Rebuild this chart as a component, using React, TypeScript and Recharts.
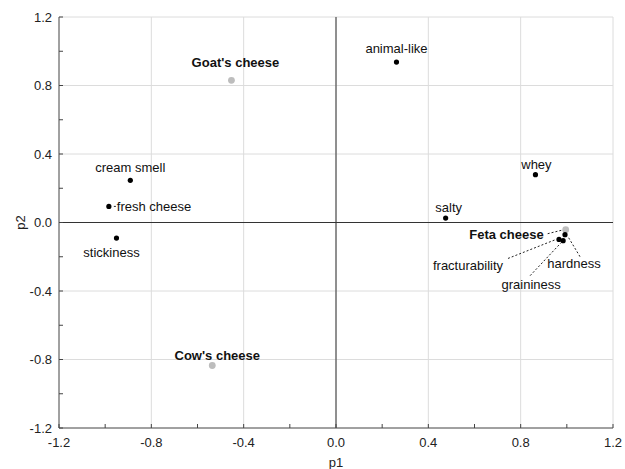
import { ScatterChart, Scatter, XAxis, YAxis, CartesianGrid, ReferenceLine } from "recharts";

// sensory attributes (loadings)
const attrNames = [
  "cream smell",
  "fresh cheese",
  "stickiness",
  "animal-like",
  "whey",
  "salty",
  "hardness",
  "fracturability",
  "graininess",
];
const attrP1 = [-0.891, -0.984, -0.951, 0.262, 0.864, 0.475, 0.992, 0.966, 0.984];
const attrP2 = [0.246, 0.094, -0.091, 0.937, 0.279, 0.026, -0.071, -0.099, -0.106];

// cheese samples (scores)
const cheeseNames = ["Goat's cheese", "Cow's cheese", "Feta cheese"];
const cheeseP1 = [-0.453, -0.536, 0.995];
const cheeseP2 = [0.83, -0.835, -0.042];

const majorTicks = [-1.2, -0.8, -0.4, 0, 0.4, 0.8, 1.2];
const allTicks = [-1.2, -1.0, -0.8, -0.6, -0.4, -0.2, 0, 0.2, 0.4, 0.6, 0.8, 1.0, 1.2];

const attrData = attrNames.map((name, i) => ({ name, p1: attrP1[i], p2: attrP2[i] }));
const cheeseData = cheeseNames.map((name, i) => ({ name, p1: cheeseP1[i], p2: cheeseP2[i] }));

const FONT = '"Liberation Sans", Arial, sans-serif';

type Placement = {
  dx: number;
  dy: number;
  anchor: "start" | "middle" | "end";
  leader?: [number, number, number, number];
};

// where each label sits relative to its point, in pixels
const placement: Record<string, Placement> = {
  "cream smell": { dx: 0, dy: -13, anchor: "middle" },
  "fresh cheese": { dx: 8, dy: 0, anchor: "start", leader: [5, 0, 7, 0] },
  stickiness: { dx: -5, dy: 14, anchor: "middle" },
  "animal-like": { dx: 0, dy: -14, anchor: "middle" },
  whey: { dx: 1, dy: -10, anchor: "middle" },
  salty: { dx: 3, dy: -11, anchor: "middle" },
  hardness: { dx: 9, dy: 29, anchor: "middle", leader: [15, 22, 3, 2] },
  fracturability: { dx: -91, dy: 26, anchor: "middle", leader: [-51, 19, -3, 0] },
  graininess: { dx: -32, dy: 44, anchor: "middle", leader: [-33, 35, -2, 2] },
  "Goat's cheese": { dx: 4, dy: -18, anchor: "middle" },
  "Cow's cheese": { dx: 5, dy: -10, anchor: "middle" },
  "Feta cheese": { dx: -22, dy: 5, anchor: "end", leader: [-18, 4, -4, 0.5] },
};

const isMajor = (v: number) => majorTicks.includes(v);

const makeShape = (r: number, fill: string, bold: boolean) => (props: any) => {
  const { cx, cy, payload } = props;
  const pl = placement[payload.name];
  return (
    <g>
      {pl && pl.leader && (
        <line
          x1={cx + pl.leader[0]}
          y1={cy + pl.leader[1]}
          x2={cx + pl.leader[2]}
          y2={cy + pl.leader[3]}
          stroke="#222"
          strokeWidth={1}
          strokeDasharray="2 2"
        />
      )}
      <circle cx={cx} cy={cy} r={r} fill={fill} />
      {pl && (
        <text
          x={cx + pl.dx}
          y={cy + pl.dy}
          textAnchor={pl.anchor}
          dominantBaseline="central"
          fontFamily={FONT}
          fontSize={13}
          fontWeight={bold ? 700 : 400}
          fill="#111"
        >
          {payload.name}
        </text>
      )}
    </g>
  );
};

const BottomTick = (p: any) => {
  const v = p.payload.value;
  return (
    <g>
      <line x1={p.x} x2={p.x} y1={p.y} y2={p.y - 4} stroke="#444" />
      {isMajor(v) && (
        <text x={p.x} y={p.y + 14} textAnchor="middle" dominantBaseline="central" fontFamily={FONT} fontSize={13} fill="#222">
          {v.toFixed(1)}
        </text>
      )}
    </g>
  );
};

const TopTick = (p: any) => <line x1={p.x} x2={p.x} y1={p.y} y2={p.y + 4} stroke="#444" />;

const LeftTick = (p: any) => {
  const v = p.payload.value;
  return (
    <g>
      <line x1={p.x} x2={p.x + 4} y1={p.y} y2={p.y} stroke="#444" />
      {isMajor(v) && (
        <text x={p.x - 7} y={p.y} textAnchor="end" dominantBaseline="central" fontFamily={FONT} fontSize={13} fill="#222">
          {v.toFixed(1)}
        </text>
      )}
    </g>
  );
};

const RightTick = (p: any) => <line x1={p.x} x2={p.x - 4} y1={p.y} y2={p.y} stroke="#444" />;

const P2Label = (props: any) => {
  const vb = props.viewBox || { x: 0, y: 17, width: 59, height: 411 };
  const x = vb.x + 20;
  const y = vb.y + vb.height / 2;
  return (
    <text x={x} y={y} transform={`rotate(-90 ${x} ${y})`} textAnchor="middle" dominantBaseline="central" fontFamily={FONT} fontSize={13} fill="#222">
      p2
    </text>
  );
};

export default function App() {
  return (
    <div style={{ position: "absolute", left: 0, top: 0, background: "#fff" }}>
      <ScatterChart width={625} height={469} margin={{ top: 17, right: 12, bottom: 0, left: 0 }}>
        <CartesianGrid
          xAxisId="x"
          yAxisId="y"
          stroke="#dcdcdc"
          verticalValues={majorTicks}
          horizontalValues={majorTicks}
        />
        <XAxis
          xAxisId="x"
          dataKey="p1"
          type="number"
          domain={[-1.2, 1.2]}
          ticks={allTicks}
          interval={0}
          tickSize={0}
          tickMargin={0}
          tickLine={false}
          tick={<BottomTick />}
          axisLine={{ stroke: "#555" }}
          height={41}
          allowDataOverflow
          label={{ value: "p1", position: "insideBottom", offset: 2, fontFamily: FONT, fontSize: 13, fill: "#222" }}
        />
        <XAxis
          xAxisId="xt"
          orientation="top"
          type="number"
          domain={[-1.2, 1.2]}
          ticks={allTicks}
          interval={0}
          tickSize={0}
          tickMargin={0}
          tickLine={false}
          tick={<TopTick />}
          axisLine={{ stroke: "#555" }}
          height={0}
          allowDataOverflow
        />
        <YAxis
          yAxisId="y"
          dataKey="p2"
          type="number"
          domain={[-1.2, 1.2]}
          ticks={allTicks}
          interval={0}
          tickSize={0}
          tickMargin={0}
          tickLine={false}
          tick={<LeftTick />}
          axisLine={{ stroke: "#555" }}
          width={59}
          allowDataOverflow
          label={<P2Label />}
        />
        <YAxis
          yAxisId="yr"
          orientation="right"
          type="number"
          domain={[-1.2, 1.2]}
          ticks={allTicks}
          interval={0}
          tickSize={0}
          tickMargin={0}
          tickLine={false}
          tick={<RightTick />}
          axisLine={{ stroke: "#555" }}
          width={0}
          allowDataOverflow
        />
        <ReferenceLine xAxisId="x" yAxisId="y" x={0} stroke="#333" />
        <ReferenceLine xAxisId="x" yAxisId="y" y={0} stroke="#333" />
        <Scatter
          xAxisId="x"
          yAxisId="y"
          data={cheeseData}
          dataKey="p2"
          shape={makeShape(3.4, "#bdbdbd", true)}
          isAnimationActive={false}
        />
        <Scatter
          xAxisId="x"
          yAxisId="y"
          data={attrData}
          dataKey="p2"
          shape={makeShape(2.6, "#000", false)}
          isAnimationActive={false}
        />
      </ScatterChart>
    </div>
  );
}
